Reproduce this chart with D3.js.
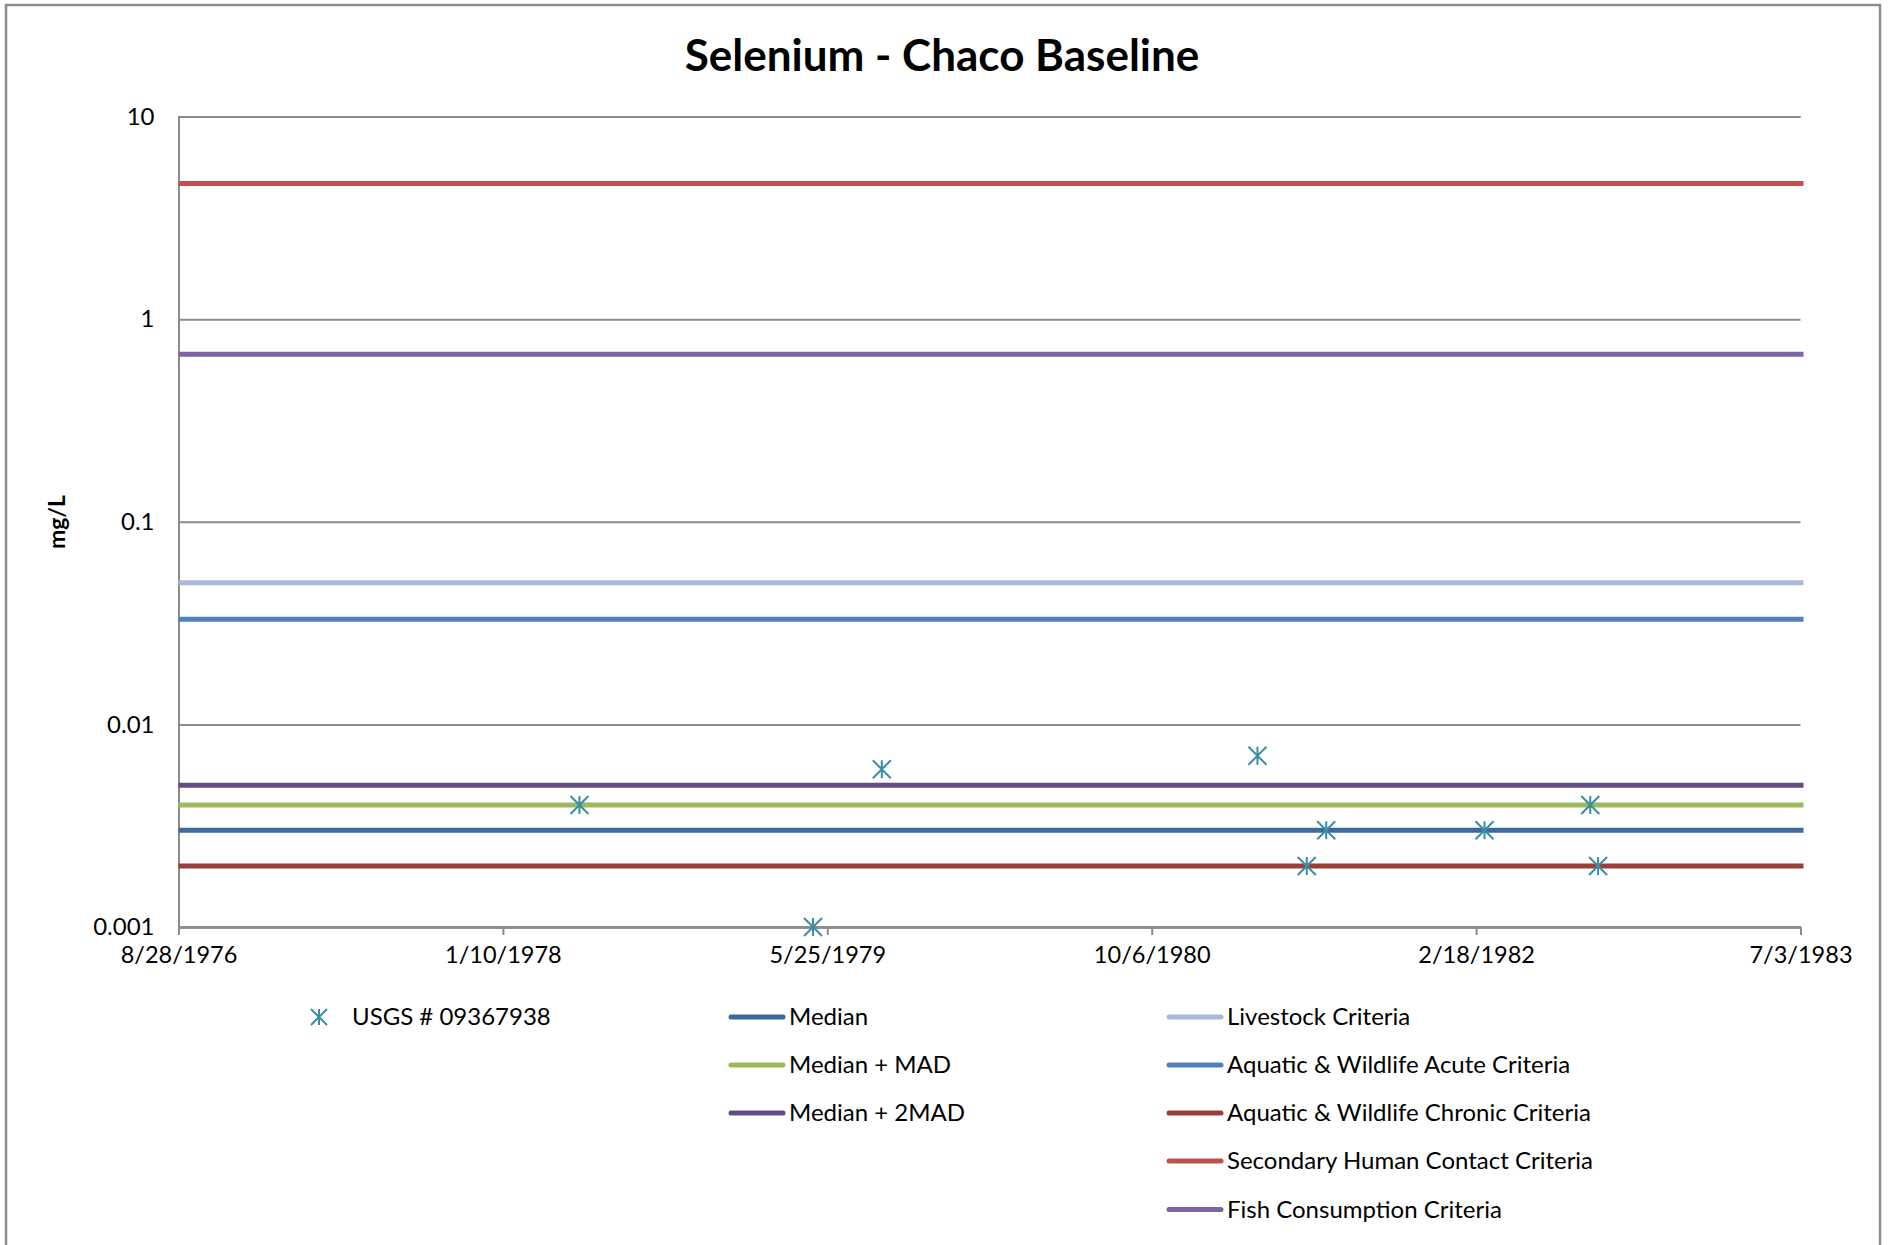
<!DOCTYPE html>
<html>
<head>
<meta charset="utf-8">
<script src="https://cdn.jsdelivr.net/npm/d3@7/dist/d3.min.js"></script>
<style>
  body { margin: 0; background: #fff; }
  svg { display: block; font-family: Lato, "Open Sans", sans-serif; }
</style>
</head>
<body>
<svg id="chart" width="1889" height="1245"></svg>
<script>
// ---------- data ----------
const title = "Selenium - Chaco Baseline";
const yAxisTitle = "mg/L";
const xTickLabels = ["8/28/1976", "1/10/1978", "5/25/1979", "10/6/1980", "2/18/1982", "7/3/1983"];
const yTickValues = [10, 1, 0.1, 0.01, 0.001];
const yTickLabels = ["10", "1", "0.1", "0.01", "0.001"];

const sampleName = "USGS # 09367938";
const sampleDates = ["5/8/1978", "5/3/1979", "8/17/1979", "3/18/1981", "6/2/1981", "7/2/1981", "3/3/1982", "8/13/1982", "8/25/1982"];
const sampleValues = [0.004, 0.001, 0.006, 0.007, 0.002, 0.003, 0.003, 0.004, 0.002];

const refNames = ["Median", "Median + MAD", "Median + 2MAD", "Livestock Criteria", "Aquatic & Wildlife Acute Criteria",
  "Aquatic & Wildlife Chronic Criteria", "Secondary Human Contact Criteria", "Fish Consumption Criteria"];
const refValues = [0.003, 0.004, 0.005, 0.05, 0.033, 0.002, 4.67, 0.67];

// ---------- styles ----------
const refColors = ["#3C6A9E", "#9BBB59", "#634C84", "#A7B9DA", "#4F81BD", "#9B3D3A", "#C0504D", "#8064A2"];
const markerColor = "#3A8EA4";
const gridColor = "#8C8C8C";

// ---------- layout ----------
const svg = d3.select("#chart");
const plot = { left: 178.5, right: 1800.5, top: 116.5, bottom: 927 };

const parse = d3.utcParse("%m/%d/%Y");
const xTicks = xTickLabels.map(parse);

const x = d3.scaleUtc()
  .domain([xTicks[0], xTicks[xTicks.length - 1]])
  .range([plot.left, plot.right]);
const y = d3.scaleLog()
  .domain([0.001, 10])
  .range([plot.bottom, plot.top]);

// outer border
svg.append("rect")
  .attr("x", 6).attr("y", 5).attr("width", 1874).attr("height", 1270)
  .attr("fill", "none").attr("stroke", "#8C8C8C").attr("stroke-width", 2.5);

// title
svg.append("text")
  .attr("x", 942).attr("y", 71)
  .attr("text-anchor", "middle")
  .attr("font-weight", "bold")
  .attr("font-size", 44)
  .attr("fill", "#000")
  .text(title);

// gridlines (y axis)
const yAxis = d3.axisLeft(y)
  .tickValues(yTickValues)
  .tickFormat((d, i) => yTickLabels[i])
  .tickSize(-(plot.right - plot.left))
  .tickPadding(24);
const gy = svg.append("g").attr("transform", `translate(${plot.left},0)`).call(yAxis);
gy.select(".domain").attr("stroke", gridColor).attr("stroke-width", 2);
gy.selectAll(".tick line").attr("stroke", gridColor).attr("stroke-width", 2);
gy.selectAll(".tick text")
  .attr("font-family", "Lato, sans-serif")
  .attr("font-size", 24)
  .attr("fill", "#000");

// x axis
const xAxis = d3.axisBottom(x)
  .tickValues(xTicks)
  .tickFormat((d, i) => xTickLabels[i])
  .tickSize(8)
  .tickSizeOuter(0)
  .tickPadding(11);
const gx = svg.append("g").attr("transform", `translate(0,${plot.bottom})`).call(xAxis);
gx.select(".domain").attr("stroke", gridColor).attr("stroke-width", 2.5);
gx.selectAll(".tick line").attr("stroke", gridColor).attr("stroke-width", 2);
gx.selectAll(".tick text")
  .attr("font-family", "Lato, sans-serif")
  .attr("font-size", 23.5)
  .attr("fill", "#000");

// y axis title
svg.append("text")
  .attr("transform", "translate(65,522) rotate(-90)")
  .attr("text-anchor", "middle")
  .attr("font-weight", "bold")
  .attr("font-size", 23)
  .text(yAxisTitle);

// reference lines
const [d0, d1] = x.domain();
svg.append("g").selectAll("line")
  .data(refValues)
  .join("line")
  .attr("x1", x(d0)).attr("x2", x(d1) + 3)
  .attr("y1", d => y(d)).attr("y2", d => y(d))
  .attr("stroke", (d, i) => refColors[i])
  .attr("stroke-width", 5);

// markers (asterisk)
function starPath(cx, cy, r) {
  return `M${cx - r},${cy - r}L${cx + r},${cy + r}M${cx - r},${cy + r}L${cx + r},${cy - r}M${cx},${cy - r}L${cx},${cy + r}`;
}
svg.append("g").selectAll("path")
  .data(sampleDates.map((d, i) => ({ date: parse(d), value: sampleValues[i] })))
  .join("path")
  .attr("d", d => starPath(x(d.date), y(d.value), 9))
  .attr("stroke", markerColor)
  .attr("stroke-width", 2)
  .attr("fill", "none");

// legend
const legend = svg.append("g").attr("font-size", 24).attr("fill", "#000");
const rowY = [1017, 1065, 1113, 1161, 1209.5];
legend.append("path")
  .attr("d", starPath(319, rowY[0], 8))
  .attr("stroke", markerColor).attr("stroke-width", 2).attr("fill", "none");
legend.append("text").attr("x", 352).attr("y", rowY[0]).attr("dy", "0.35em").text(sampleName);

refNames.forEach((name, i) => {
  const col = i < 3 ? 0 : 1;
  const row = i < 3 ? i : i - 3;
  const lx = col === 0 ? 731 : 1169;
  const ly = rowY[row];
  legend.append("line")
    .attr("x1", lx).attr("x2", lx + 52)
    .attr("y1", ly).attr("y2", ly)
    .attr("stroke", refColors[i]).attr("stroke-width", 5)
    .attr("stroke-linecap", "round");
  legend.append("text")
    .attr("x", lx + 58).attr("y", ly).attr("dy", "0.35em")
    .text(name);
});
</script>
</body>
</html>
